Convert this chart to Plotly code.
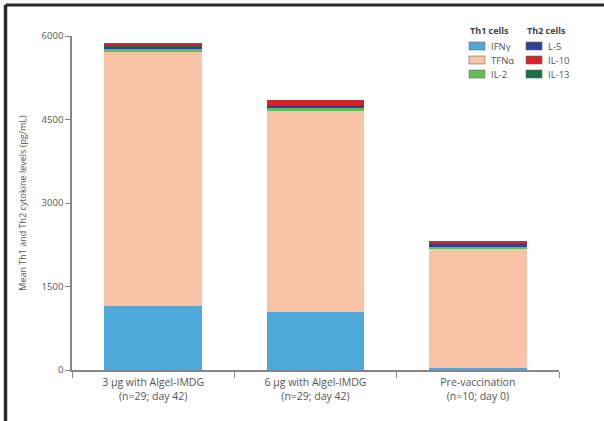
import plotly.graph_objects as go

# Vaccination groups (x categories)
groups = [
    "3 µg with Algel-IMDG<br>(n=29; day 42)",
    "6 µg with Algel-IMDG<br>(n=29; day 42)",
    "Pre-vaccination<br>(n=10; day 0)",
]

# Mean cytokine levels (pg/mL), stacked bottom to top
ifng = [1150, 1045, 40]
tnfa = [4560, 3610, 2128]
il2 = [70, 55, 47]
il5 = [25, 48, 60]
il13 = [35, 10, 8]
il10 = [25, 75, 40]

# Series: (name, values, colour)
th1 = [
    ("IFNγ", ifng, "#4ea8da"),
    ("TFNα", tnfa, "#f9c3a8"),
    ("IL-2", il2, "#62bf52"),
]
th2_stack = [
    ("L-5", il5, "#33409a"),
    ("IL-13", il13, "#17703f"),
    ("IL-10", il10, "#d8232b"),
]
th2_legend_order = ["L-5", "IL-10", "IL-13"]

fig = go.Figure()
for name, vals, col in th1 + th2_stack:
    fig.add_trace(go.Bar(
        x=groups, y=vals, name=name, showlegend=False,
        marker=dict(color=col, line=dict(width=0)),
    ))

grey = "#555555"
axis_col = "#8a8584"

L, R, T, B = 72, 45, 36, 51
W, H = 604, 421
PW, PH = W - L - R, H - T - B


def px(x):
    return (x - L) / PW


def py(y):
    return (H - B - y) / PH


fig.update_layout(
    width=W, height=H,
    margin=dict(l=L, r=R, t=T, b=B),
    paper_bgcolor="white", plot_bgcolor="white",
    barmode="stack", bargap=0.4,
    font=dict(family="Open Sans, DejaVu Sans, sans-serif", size=9, color=grey),
    showlegend=False,
    xaxis=dict(
        showline=True, linecolor=axis_col, linewidth=1.5,
        ticks="outside", tickson="boundaries", ticklen=6, tickcolor=axis_col,
        tickfont=dict(size=10.5, color=grey), ticklabelstandoff=2,
        showgrid=False, zeroline=False,
    ),
    yaxis=dict(
        range=[0, 6000], tickvals=[0, 1500, 3000, 4500, 6000],
        showline=True, linecolor=axis_col, linewidth=1.5,
        ticks="outside", ticklen=5, tickcolor=axis_col,
        tickfont=dict(size=9.5, color=grey),
        showgrid=False, zeroline=False,
        title=dict(text="Mean Th1 and Th2 cytokine levels (pg/mL)",
                   font=dict(size=9, color=grey), standoff=13),
    ),
)

# Two-column legend: Th1 cells and Th2 cells
colours = {name: col for name, _, col in th1 + th2_stack}
columns = [
    ("Th1 cells", [n for n, _, _ in th1], 469),
    ("Th2 cells", th2_legend_order, 526),
]
for title, names, x0 in columns:
    fig.add_annotation(
        x=px(x0 - 1), y=py(31), xref="paper", yref="paper",
        xanchor="left", yanchor="middle", showarrow=False,
        text=f"<b>{title}</b>", font=dict(size=9, color="#444"),
    )
    for k, name in enumerate(names):
        yc = 46 + 14 * k
        fig.add_shape(
            type="rect", xref="paper", yref="paper",
            x0=px(x0), x1=px(x0 + 16), y0=py(yc - 4), y1=py(yc + 4),
            fillcolor=colours[name], line=dict(color="#6d6d6d", width=0.6),
        )
        fig.add_annotation(
            x=px(x0 + 20), y=py(yc), xref="paper", yref="paper",
            xanchor="left", yanchor="middle", showarrow=False,
            text=name, font=dict(size=9.5, color=grey),
        )

# Dark frame along the top and left edges of the figure
frame = "#2b2b2b"
fig.add_shape(type="line", xref="paper", yref="paper",
              x0=px(5.5), x1=px(610), y0=py(5), y1=py(5),
              line=dict(color=frame, width=3))
fig.add_shape(type="line", xref="paper", yref="paper",
              x0=px(5.5), x1=px(5.5), y0=py(5), y1=py(430),
              line=dict(color=frame, width=3.5))

fig.write_html("out.html")
